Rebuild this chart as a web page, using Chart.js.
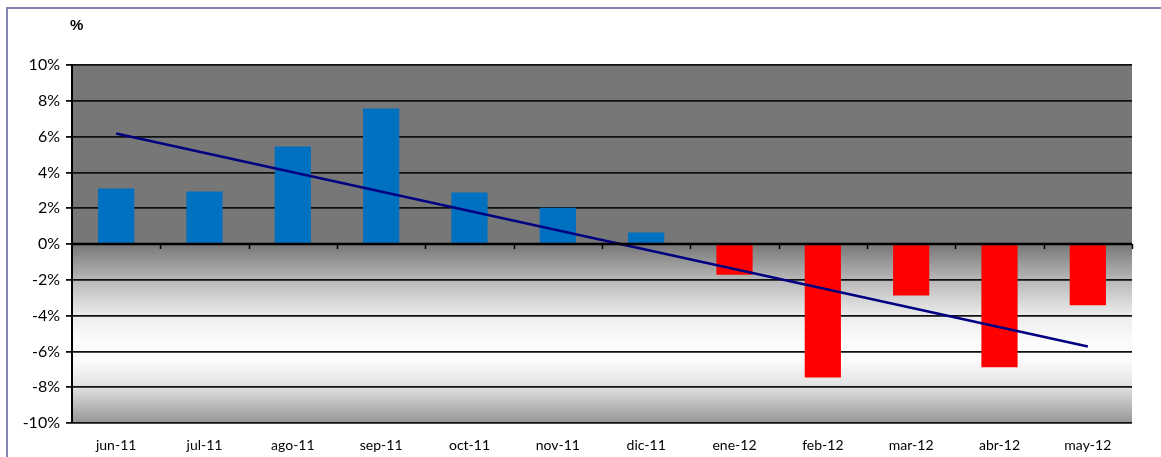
<!DOCTYPE html>
<html>
<head>
<meta charset="utf-8">
<script src="https://cdn.jsdelivr.net/npm/chart.js@4.4.1/dist/chart.umd.min.js"></script>
<style>
  html, body { margin: 0; padding: 0; background: #ffffff; }
  #wrap { position: relative; width: 1161px; height: 457px; }
</style>
</head>
<body>
<div id="wrap"><canvas id="c" width="1161" height="457"></canvas></div>
<script>
// ---- data ----
const categories = ['jun-11','jul-11','ago-11','sep-11','oct-11','nov-11','dic-11','ene-12','feb-12','mar-12','abr-12','may-12'];
const barValues = [3.1, 2.93, 5.45, 7.57, 2.88, 2.03, 0.64, -1.72, -7.46, -2.88, -6.88, -3.42];
const trendValues = [6.17, null, null, null, null, null, null, null, null, null, null, -5.73];
const yTicks = [-10, -8, -6, -4, -2, 0, 2, 4, 6, 8, 10];
const axisTitle = '%';

const POS = '#0070C0', NEG = '#FF0000';

const bgPlugin = {
  id: 'bg',
  beforeDraw(chart) {
    const { ctx, chartArea: a, scales: { y } } = chart;
    const z = y.getPixelForValue(0);
    ctx.save();
    ctx.fillStyle = '#777777';
    ctx.fillRect(a.left, a.top, a.right - a.left, z - a.top);
    const g = ctx.createLinearGradient(0, z, 0, a.bottom);
    g.addColorStop(0, '#777777');
    g.addColorStop(0.2, '#b8b8b8');
    g.addColorStop(0.4, '#ececec');
    g.addColorStop(0.55, '#fcfcfc');
    g.addColorStop(0.65, '#fbfbfb');
    g.addColorStop(0.8, '#e0e0e0');
    g.addColorStop(1, '#959595');
    ctx.fillStyle = g;
    ctx.fillRect(a.left, z, a.right - a.left, a.bottom - z);
    ctx.restore();
  },
  afterDatasetsDraw(chart) {
    const { ctx, chartArea: a, scales: { x, y } } = chart;
    const z = y.getPixelForValue(0);
    ctx.save();
    ctx.strokeStyle = '#000000';
    ctx.lineWidth = 2.5;
    ctx.beginPath();
    ctx.moveTo(a.left, z);
    ctx.lineTo(a.right, z);
    ctx.stroke();
    ctx.lineWidth = 1.5;
    const n = categories.length;
    for (let i = 1; i <= n; i++) {
      const px = Math.round(x.getPixelForValue(i - 0.5)) + 0.5;
      ctx.beginPath();
      ctx.moveTo(px, z);
      ctx.lineTo(px, z + 5);
      ctx.stroke();
    }
    ctx.restore();
  },
  afterDraw(chart) {
    const { ctx } = chart;
    ctx.save();
    ctx.strokeStyle = '#8585b5';
    ctx.lineWidth = 2;
    ctx.beginPath();
    ctx.moveTo(7, 457);
    ctx.lineTo(7, 8);
    ctx.lineTo(1161, 8);
    ctx.stroke();
    ctx.fillStyle = '#000000';
    ctx.font = 'bold 15px "Liberation Sans", Arial, sans-serif';
    ctx.textAlign = 'left';
    ctx.textBaseline = 'middle';
    ctx.fillText(axisTitle, 70, 26);
    ctx.restore();
  }
};

new Chart(document.getElementById('c'), {
  data: {
    labels: categories,
    datasets: [
      {
        type: 'line',
        data: trendValues,
        borderColor: '#000080',
        borderWidth: 2.5,
        pointRadius: 0,
        spanGaps: true,
        fill: false,
        order: 0
      },
      {
        type: 'bar',
        data: barValues,
        backgroundColor: barValues.map(v => v >= 0 ? POS : NEG),
        categoryPercentage: 1,
        barPercentage: 0.41,
        order: 1
      }
    ]
  },
  options: {
    responsive: false,
    animation: false,
    events: [],
    layout: { padding: { top: 65, right: 29, left: 0, bottom: 0 } },
    plugins: { legend: { display: false }, tooltip: { enabled: false } },
    scales: {
      x: {
        type: 'category',
        offset: true,
        grid: { display: false, drawTicks: false },
        border: { display: false },
        ticks: { color: '#000', font: { family: 'Lato', size: 14 }, padding: 14, maxRotation: 0, autoSkip: false },
        afterFit(s) { s.height = 34; }
      },
      y: {
        min: -10, max: 10,
        afterBuildTicks(s) { s.ticks = yTicks.map(v => ({ value: v })); },
        grid: { color: '#111111', lineWidth: 1.8, tickLength: 6, drawTicks: true },
        border: { display: true, color: '#000', width: 2 },
        ticks: { color: '#000', font: { family: 'Lato', size: 16 }, padding: 6, callback: v => v + '%' },
        afterFit(s) { s.width = 72; }
      }
    }
  },
  plugins: [bgPlugin]
});
</script>
</body>
</html>
